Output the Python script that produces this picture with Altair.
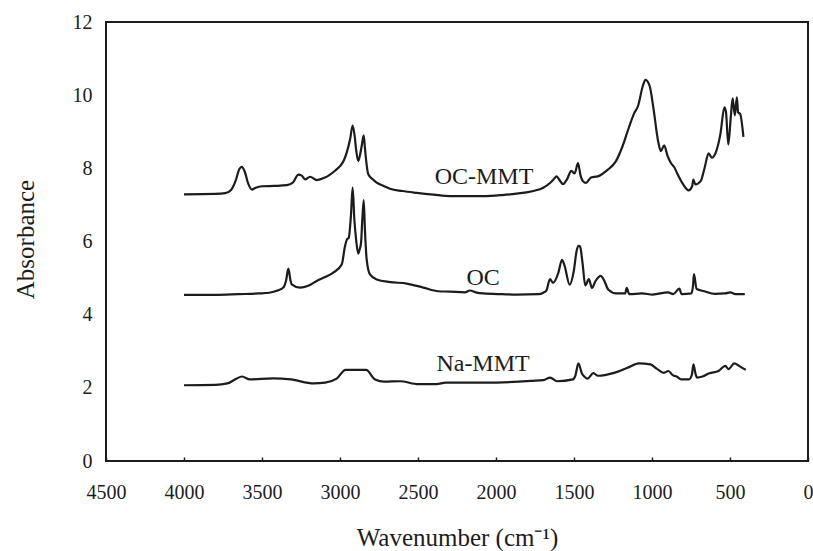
import altair as alt
import pandas as pd

# FT-IR spectra: wavenumber (cm-1) and absorbance for each sample
ocmmt_wn = [4000, 3800, 3736, 3700, 3670, 3645, 3630, 3610, 3590, 3565, 3540, 3500, 3420, 3340,
            3300, 3267, 3245, 3224, 3192, 3149, 3100, 3064, 3030, 3000, 2975, 2957, 2935, 2919,
            2905, 2897, 2883, 2870, 2861, 2848, 2840, 2833, 2818, 2790, 2765, 2720, 2679, 2600,
            2508, 2400, 2295, 2180, 2081, 1960, 1867, 1760, 1697, 1654, 1630, 1612, 1590, 1570,
            1545, 1517, 1496, 1474, 1458, 1443, 1423, 1391, 1348, 1285, 1232, 1190, 1147, 1116,
            1089, 1059, 1042, 1015, 990, 962, 943, 922, 901, 878, 857, 836, 800, 764, 743, 735,
            722, 688, 663, 637, 617, 589, 561, 536, 526, 511, 494, 483, 469, 456, 448, 435, 414]
ocmmt_abs = [7.29, 7.30, 7.32, 7.40, 7.65, 7.98, 8.04, 7.90, 7.60, 7.42, 7.47, 7.51, 7.52, 7.54,
             7.62, 7.83, 7.80, 7.70, 7.77, 7.68, 7.74, 7.83, 7.94, 8.06, 8.22, 8.43, 8.80, 9.17,
             8.85, 8.52, 8.20, 8.40, 8.61, 8.90, 8.55, 8.24, 7.83, 7.70, 7.61, 7.52, 7.44, 7.38,
             7.33, 7.28, 7.24, 7.24, 7.24, 7.27, 7.31, 7.38, 7.47, 7.60, 7.70, 7.78, 7.66, 7.57,
             7.70, 7.93, 7.86, 8.14, 7.80, 7.65, 7.60, 7.75, 7.78, 7.96, 8.19, 8.59, 9.13, 9.49,
             9.71, 10.25, 10.42, 10.25, 9.62, 8.77, 8.47, 8.63, 8.35, 8.14, 8.03, 7.84, 7.56,
             7.40, 7.51, 7.69, 7.56, 7.65, 8.01, 8.41, 8.29, 8.46, 8.95, 9.67, 9.55, 8.65, 9.45,
             9.91, 9.45, 9.94, 9.53, 9.49, 8.86]

oc_wn = [4000, 3800, 3650, 3520, 3454, 3400, 3363, 3345, 3331, 3318, 3310, 3256, 3200, 3149, 3100,
         3043, 2989, 2968, 2955, 2944, 2930, 2919, 2908, 2897, 2883, 2873, 2865, 2857, 2848,
         2840, 2829, 2808, 2765, 2679, 2572, 2466, 2370, 2295, 2200, 2167, 2130, 2081, 1960,
         1867, 1727, 1697, 1677, 1654, 1634, 1600, 1577, 1561, 1528, 1501, 1483, 1470, 1461,
         1445, 1428, 1405, 1385, 1362, 1328, 1312, 1279, 1229, 1172, 1162, 1146, 1063, 996,
         897, 864, 824, 811, 747, 737, 731, 714, 664, 598, 531, 498, 465, 405]
oc_abs = [4.54, 4.54, 4.56, 4.58, 4.60, 4.66, 4.74, 4.95, 5.26, 4.95, 4.83, 4.74, 4.80, 4.92, 5.02,
          5.15, 5.37, 5.87, 6.06, 6.10, 6.70, 7.47, 6.60, 6.06, 5.67, 5.80, 5.97, 6.60, 7.13,
          6.30, 5.51, 5.10, 4.96, 4.89, 4.85, 4.74, 4.64, 4.63, 4.61, 4.66, 4.61, 4.58, 4.56,
          4.55, 4.56, 4.60, 4.66, 4.97, 4.87, 5.15, 5.50, 5.35, 4.82, 5.20, 5.75, 5.88, 5.86,
          5.40, 4.80, 4.97, 4.73, 4.92, 5.06, 4.98, 4.68, 4.58, 4.58, 4.73, 4.56, 4.58, 4.55,
          4.61, 4.56, 4.71, 4.56, 4.58, 4.80, 5.11, 4.70, 4.64, 4.57, 4.58, 4.61, 4.56, 4.56]

na_wn = [4000, 3800, 3722, 3664, 3629, 3577, 3431, 3314, 3168, 3095, 3022, 2964, 2833, 2775, 2717,
         2615, 2498, 2381, 2323, 2061, 1769, 1696, 1653, 1609, 1507, 1490, 1472, 1450, 1434,
         1413, 1376, 1346, 1244, 1157, 1084, 1011, 968, 924, 895, 865, 842, 813, 763, 745, 734,
         722, 711, 676, 632, 574, 530, 510, 472, 442, 399]
na_abs = [2.07, 2.08, 2.12, 2.25, 2.31, 2.23, 2.26, 2.23, 2.12, 2.14, 2.25, 2.49, 2.49, 2.23, 2.17,
          2.18, 2.10, 2.10, 2.14, 2.14, 2.19, 2.21, 2.28, 2.18, 2.23, 2.35, 2.67, 2.40, 2.31,
          2.25, 2.40, 2.33, 2.41, 2.55, 2.67, 2.64, 2.52, 2.41, 2.46, 2.34, 2.31, 2.23, 2.23,
          2.35, 2.64, 2.40, 2.28, 2.31, 2.40, 2.46, 2.60, 2.51, 2.67, 2.60, 2.49]

# Curve labels placed beside each spectrum
label_text = ["OC-MMT", "OC", "Na-MMT"]
label_wn = [2077, 2083, 2083]
label_abs = [7.77, 4.99, 2.66]

frames = []
for name, wn, ab in [("OC-MMT", ocmmt_wn, ocmmt_abs), ("OC", oc_wn, oc_abs), ("Na-MMT", na_wn, na_abs)]:
    f = pd.DataFrame({"sample": name, "wn": wn, "abs": ab})
    f["step"] = range(len(f))  # scan order: high to low wavenumber
    frames.append(f)
spectra = pd.concat(frames, ignore_index=True)
labels = pd.DataFrame({"text": label_text, "wn": label_wn, "abs": label_abs})

FONT = "Liberation Serif"
INK = "#1c1c1c"

x_scale = alt.Scale(domain=[4500, 0], nice=False, zero=False)
y_scale = alt.Scale(domain=[0, 12], nice=False)

x_axis = alt.Axis(
    title="Wavenumber (cm⁻¹)", values=list(range(0, 4501, 500)), format="d",
    grid=False, domain=False, offset=-4, ticks=True, tickSize=4, tickColor=INK, tickWidth=1.5,
    labelFont=FONT, labelFontSize=20, labelColor=INK, labelPadding=21, labelFlush=False,
    labelOverlap=False, titleFont=FONT, titleFontSize=25, titleFontWeight="normal",
    titleColor=INK, titleBaseline="middle", titleY=80,
)
y_axis = alt.Axis(
    title="Absorbance", values=list(range(0, 13, 2)), grid=False, domain=False, ticks=False,
    labelFont=FONT, labelFontSize=20, labelColor=INK, labelPadding=14, labelFlush=False,
    titleFont=FONT, titleFontSize=25, titleFontWeight="normal", titleColor=INK,
    titleX=-81, titleY=217, titleAlign="center", titleBaseline="middle", titleAngle=-90,
)

lines = alt.Chart(spectra).mark_line(
    color=INK, strokeWidth=2.2, strokeJoin="round", interpolate="monotone"
).encode(
    x=alt.X("wn:Q", scale=x_scale, axis=x_axis),
    y=alt.Y("abs:Q", scale=y_scale, axis=y_axis),
    detail="sample:N",
    order="step:Q",
)

texts = alt.Chart(labels).mark_text(font=FONT, fontSize=24, color=INK, align="center",
                                    baseline="middle").encode(
    x=alt.X("wn:Q", scale=x_scale),
    y=alt.Y("abs:Q", scale=y_scale),
    text="text:N",
)

chart = alt.layer(lines, texts).properties(
    width=702, height=439,
    autosize=alt.AutoSizeParams(type="none"),
    padding={"left": 106, "top": 22, "right": 5, "bottom": 90},
    background="white",
).configure_view(stroke=INK, strokeWidth=2)

chart.save("out.html", embed_options={"renderer": "svg", "actions": False})
